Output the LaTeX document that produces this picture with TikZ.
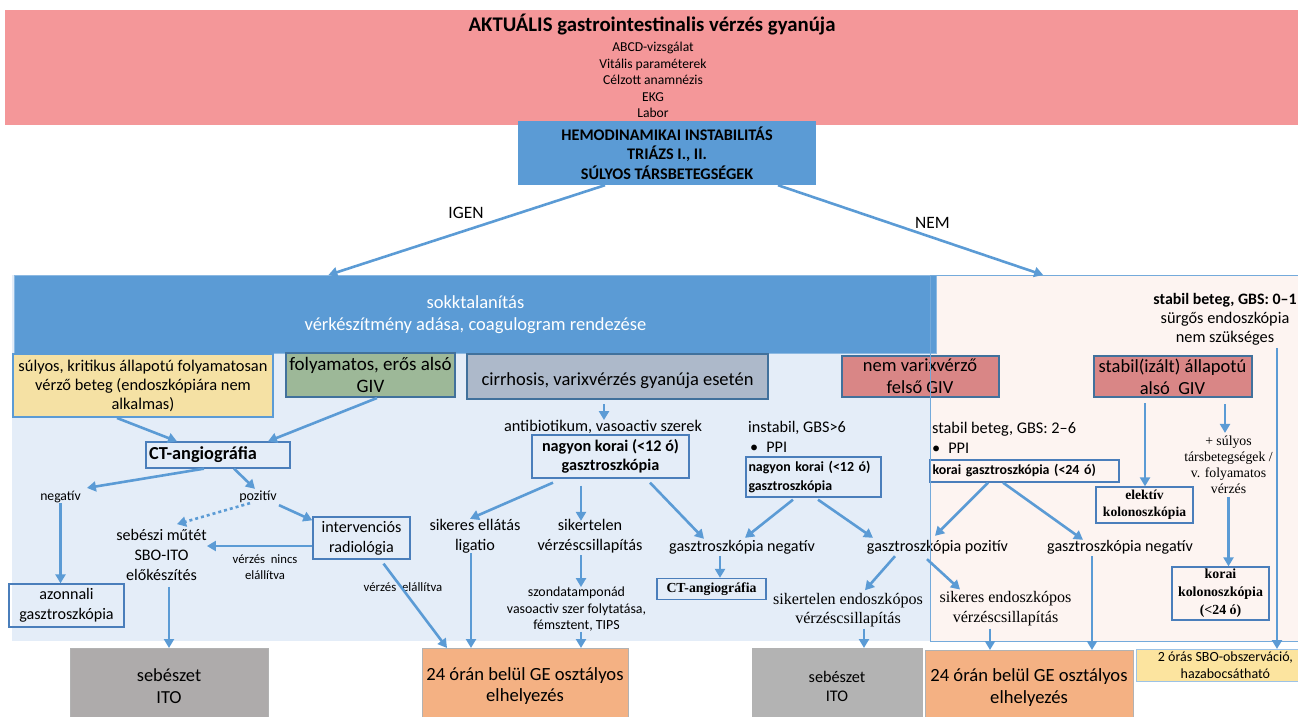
\documentclass[tikz,border=0pt]{standalone}
\usepackage{fontspec}
\setmainfont{Carlito}
\newfontfamily\tms{Liberation Serif}
\usetikzlibrary{arrows.meta}
\definecolor{toppink}{HTML}{F49799}
\definecolor{mblue}{HTML}{5B9BD5}
\definecolor{lbpanel}{HTML}{E4EDF8}
\definecolor{pkpanel}{HTML}{FDF4F1}
\definecolor{yelbox}{HTML}{F5E1A4}
\definecolor{grnbox}{HTML}{9DB898}
\definecolor{cirbox}{HTML}{ADB9CA}
\definecolor{redbox}{HTML}{D98686}
\definecolor{dkborder}{HTML}{41719C}
\definecolor{wbborder}{HTML}{4A7EBB}
\definecolor{grayA}{HTML}{AEABAB}
\definecolor{grayB}{HTML}{B3B3B3}
\definecolor{orng}{HTML}{F4B183}
\definecolor{sboyel}{HTML}{FCE49F}
\newcommand\fsz[2]{\fontsize{#1}{#2}\selectfont}
\begin{document}
\begin{tikzpicture}[x=1pt,y=-1pt,
  arr/.style={draw=mblue, line width=2.6pt, -{Triangle[length=9pt,width=10pt]}},
  txt/.style={inner sep=0pt, align=center},
  wbox/.style={draw=wbborder, line width=1.3pt, inner sep=0pt, align=center},
  cbox/.style={draw=dkborder, line width=2pt, inner sep=0pt, align=center},
  bigbox/.style={inner sep=0pt, align=center, anchor=north, draw=black!30, line width=0.8pt}]
\useasboundingbox (0,0) rectangle (1298,717);

% header
\node[fill=toppink, minimum width=1293, minimum height=115, inner sep=0, anchor=north west] (top) at (5,10) {};
\node[txt, font={\fsz{20.8}{24}\bfseries}] (title) at (652,25) {AKTUÁLIS gastrointestinalis vérzés gyanúja};
\node[txt, font={\fsz{13.6}{16.5}}] (checks) at (653,80) {ABCD-vizsgálat\\Vitális paraméterek\\Célzott anamnézis\\EKG\\Labor};
\node[fill=mblue, minimum width=298.5, minimum height=64, inner sep=0, align=center, font={\fsz{16.2}{19.5}\bfseries}] (hemo) at (667,153) {HEMODINAMIKAI INSTABILITÁS\\TRIÁZS I., II.\\SÚLYOS TÁRSBETEGSÉGEK};
\node[txt, font={\fsz{17.4}{20}}] (igen) at (466,213) {IGEN};
\node[txt, font={\fsz{17.4}{20}}] (nem) at (932.5,223) {NEM};

% panels
\node[fill=lbpanel, minimum width=918, minimum height=366, inner sep=0, anchor=north west] (lbp) at (12,275) {};
\node[fill=pkpanel, minimum width=370, minimum height=366, inner sep=0, anchor=north west] (pkp) at (930,275) {};
\node[fill=mblue, draw=mblue!70!white, line width=0.8pt, minimum width=922, minimum height=78, inner sep=0, anchor=north west, align=center, text=white, font={\fsz{18.5}{22}}] (sokk) at (14,275) {sokktalanítás\\vérkészítmény adása, coagulogram rendezése};

% category boxes
\node[draw=mblue, line width=2pt, fill=yelbox, minimum width=260, minimum height=63, inner sep=0, align=center, font={\fsz{16.4}{19}}] (yel) at (143,385.5) {súlyos, kritikus állapotú folyamatosan\\vérző beteg (endoszkópiára nem\\alkalmas)};
\node[cbox, fill=grnbox, minimum width=169, minimum height=44, font={\fsz{19}{22}}] (grn) at (370.5,375) {folyamatos, erős alsó\\GIV};
\node[cbox, fill=cirbox, minimum width=301, minimum height=45, font={\fsz{18.5}{22}}] (cir) at (617.5,376.5) {\mbox{}\\cirrhosis, varixvérzés gyanúja esetén};
\node[cbox, fill=redbox, minimum width=157, minimum height=41, font={\fsz{18.5}{22}}] (nemv) at (920,376.5) {nem varixvérző\\felső GIV};
\node[cbox, fill=redbox, minimum width=158, minimum height=41, font={\fsz{18.5}{22}}] (stab) at (1172.5,376.5) {stabil(izált) állapotú\\alsó\ \ GIV};
\node[txt, font={\fsz{16.3}{19}}] (gbs01) at (1225,319) {{\fsz{15.9}{19}\bfseries stabil beteg, GBS: 0–1}\\sürgős endoszkópia\\nem szükséges};

% left branch
\node[wbox, minimum width=144, minimum height=26, text width=138, align=left, font={\fsz{18.3}{20}\bfseries}] (cta) at (218,455) {CT-angiográfia};
\node[txt, font={\fsz{13.7}{16}}] (neg) at (60.5,497) {negatív};
\node[txt, font={\fsz{14}{16}}] (pos) at (258,497) {pozitív};
\node[txt, font={\fsz{16.1}{20}}] (sebeszi) at (161.5,555) {sebészi műtét\\SBO-ITO\\előkészítés};
\node[wbox, minimum width=97, minimum height=42, font={\fsz{16.1}{20}}] (interv) at (361.5,538) {intervenciós\\radiológia};
\node[txt, font={\fsz{12.7}{16}}] (nincs) at (265,567) {vérzés\ \ nincs\\elállítva};
\node[txt, font={\fsz{12.8}{15}}] (elall) at (403,587) {vérzés\ \ elállítva};
\node[wbox, minimum width=115, minimum height=43, font={\fsz{16.1}{20}}] (azon) at (66.5,605.5) {azonnali\\gasztroszkópia};
\node[bigbox, fill=grayA, minimum width=198, minimum height=76, font={\fsz{18.4}{22}}] (seb1) at (169,648) {sebészet\\ITO};
\node[bigbox, fill=orng, minimum width=206, minimum height=76, font={\fsz{18.6}{21}}] (ge1) at (525,648) {24 órán belül GE osztályos\\elhelyezés};

% middle branch
\node[txt, font={\fsz{16.3}{18}}] (antib) at (603,427) {antibiotikum, vasoactiv szerek};
\node[wbox, minimum width=157, minimum height=43, font={\fsz{16.2}{19}\bfseries}] (nk1) at (610.5,456.5) {nagyon korai (<12 ó)\\gasztroszkópia};
\node[txt, font={\fsz{16.2}{20}}] (sikeres) at (475,536) {sikeres ellátás\\ligatio};
\node[txt, font={\fsz{16.2}{20}}] (sikertelen) at (590,536) {sikertelen\\vérzéscsillapítás};
\node[txt, font={\fsz{13.9}{16.5}}] (szonda) at (576.5,609.5) {szondatamponád\\vasoactiv szer folytatása,\\fémsztent, TIPS};
\node[txt, anchor=west, align=left, font={\fsz{16.2}{20}}] (instab) at (748,437) {instabil, GBS>6\\\hspace*{2pt}\textbullet\hspace{8pt}PPI};
\node[wbox, minimum width=135, minimum height=40, text width=130, align=left, font={\fsz{13.9}{19}\bfseries}] (nk2) at (813.5,477) {nagyon korai (<12 ó)\\gasztroszkópia};
\node[txt, font={\fsz{16.1}{18}}] (gneg1) at (742,547) {gasztroszkópia negatív};
\node[wbox, minimum width=109, minimum height=21, font={\tms\fsz{13.8}{15}\bfseries}] (ct2) at (711.5,589) {CT-angiográfia};
\node[txt, font={\fsz{16.1}{18}}] (gpos) at (937.5,547) {gasztroszkópia pozitív};
\node[txt, font={\fsz{16.1}{18}}] (gneg2) at (1120,547) {gasztroszkópia negatív};
\node[txt, font={\tms\fsz{16.1}{18.5}}] (siktel2) at (848,610) {sikertelen endoszkópos\\vérzéscsillapítás};
\node[txt, font={\tms\fsz{16.1}{20}}] (sikeres2) at (1005.5,609) {sikeres endoszkópos\\vérzéscsillapítás};
\node[bigbox, fill=grayB, minimum width=170, minimum height=76, font={\fsz{16.2}{19}}] (seb2) at (837,648) {sebészet\\ITO};
\node[bigbox, fill=orng, minimum width=208, minimum height=74, font={\fsz{18.6}{22}}] (ge2) at (1029,650) {24 órán belül GE osztályos\\elhelyezés};

% right branch
\node[txt, anchor=west, align=left, font={\fsz{16.3}{20}}] (stab26) at (932,438) {stabil beteg, GBS: 2–6\\\textbullet\hspace{8pt}PPI};
\node[wbox, minimum width=189, minimum height=22, text width=184, align=left, font={\fsz{13.9}{16}\bfseries}] (kg) at (1024.5,471) {korai gasztroszkópia (<24 ó)};
\node[wbox, minimum width=97, minimum height=36, font={\tms\fsz{13.6}{17}\bfseries}] (elek) at (1144.5,505) {elektív\\kolonoszkópia};
\node[txt, font={\tms\fsz{13.8}{16}}] (tars) at (1228.5,465) {+ súlyos\\társbetegségek /\\v. folyamatos\\vérzés};
\node[wbox, minimum width=97, minimum height=53, font={\tms\fsz{13.9}{18}\bfseries}] (korkol) at (1220.5,593.5) {korai\\kolonoszkópia\\(<24 ó)};
\node[draw=mblue!60, line width=0.8pt, fill=sboyel, minimum width=178, minimum height=32, inner sep=0, align=center, anchor=north west, font={\fsz{14}{17}}] (sbo) at (1136,649) {2 órás SBO-obszerváció,\\hazabocsátható};

% pink panel border on top
\draw[mblue!85, line width=0.9pt] (pkp.north east) -- (pkp.north west) -- (pkp.south west) -- (pkp.south east);

% connectors
\draw[arr] ([xshift=-62]hemo.south) -- ([xshift=-147]sokk.north);
\draw[arr] ([xshift=111]hemo.south) -- ([xshift=-72]pkp.north);
\draw[arr] ([xshift=-26]yel.south) -- ([xshift=-41]cta.north);
\draw[arr] ([xshift=6.5]grn.south) -- ([xshift=50]cta.north);
\draw[arr] ([xshift=-14]cta.south) -- ([xshift=6,yshift=3]neg.north east);
\draw[arr] ([xshift=16]cta.south) -- ([xshift=-3,yshift=2]pos.north);
\draw[arr, dash pattern=on 3pt off 3pt] ([xshift=-8]pos.south) -- ([xshift=15.5,yshift=5]sebeszi.north);
\draw[arr] ([xshift=21,yshift=-2]pos.south) -- ([yshift=-4]interv.north west);
\draw[arr] ([yshift=-8]interv.west) -- ([yshift=-8]sebeszi.east |- interv.west);
\draw[arr] (neg.south) -- (neg.south |- azon.north);
\draw[arr] ([yshift=-6]seb1.north |- sebeszi.south) -- (seb1.north);
\draw[arr] ([xshift=22,yshift=-4]interv.south) -- ([xshift=-78]ge1.north);
\draw[arr] ([xshift=-13.5,yshift=-4]cir.south) -- ([xshift=-13.5]cir.south |- antib.north);
\draw[arr] ([xshift=-57.5,yshift=-4]nk1.south) -- ([xshift=-5]sikeres.north);
\draw[arr] ([xshift=-29.5,yshift=-7]nk1.south) -- ([xshift=-29.5,yshift=-2]nk1.south |- sikertelen.north);
\draw[arr] ([xshift=39.5,yshift=-4]nk1.south) -- ([xshift=-38,yshift=1]gneg1.north);
\draw[arr] ([xshift=-4]sikeres.south) -- ([xshift=-4]sikeres.south |- ge1.north);
\draw[arr] ([xshift=-9,yshift=-2]sikertelen.south) -- ([xshift=-9]sikertelen.south |- szonda.north);
\draw[arr] ([xshift=4.5]szonda.south) -- ([xshift=4.5]szonda.south |- ge1.north);
\draw[arr] ([xshift=-20.5,yshift=-2]nk2.south) -- ([xshift=3,yshift=2]gneg1.north);
\draw[arr] ([xshift=4.5,yshift=-2]nk2.south) -- ([xshift=-64.5,yshift=2]gpos.north);
\draw[arr] ([xshift=-22,yshift=-2]gneg1.south) -- ([xshift=-22]gneg1.south |- ct2.north);
\draw[arr] ([xshift=-36.5]kg.south) -- ([xshift=-2.5,yshift=4]gpos.north);
\draw[arr] ([xshift=-21.5]kg.south) -- ([xshift=-37]gneg2.north);
\draw[arr] ([xshift=-42.5,yshift=-2]gpos.south) -- ([xshift=17,yshift=3]siktel2.north);
\draw[arr] ([xshift=-10.5,yshift=-5]gpos.south) -- ([xshift=-45.5,yshift=2]sikeres2.north);
\draw[arr] ([xshift=16,yshift=-2]siktel2.south) -- ([xshift=16]siktel2.south |- seb2.north);
\draw[arr] ([xshift=-15.5,yshift=-2]sikeres2.south) -- ([xshift=-15.5]sikeres2.south |- ge2.north);
\draw[arr] ([xshift=-28,yshift=-2]gneg2.south) -- ([xshift=-28]gneg2.south |- ge2.north);
\draw[arr] ([xshift=-27.5,yshift=-5]stab.south) -- ([xshift=-27.5]stab.south |- elek.north);
\draw[arr] ([xshift=52.5,yshift=-6]stab.south) -- ([xshift=52.5,yshift=3]stab.south |- tars.north);
\draw[arr] ([yshift=-3]tars.south) -- (tars.south |- korkol.north);
\draw[arr] ([xshift=52,yshift=-3]gbs01.south) -- ([xshift=52]gbs01.south |- sbo.north);
\end{tikzpicture}
\end{document}
